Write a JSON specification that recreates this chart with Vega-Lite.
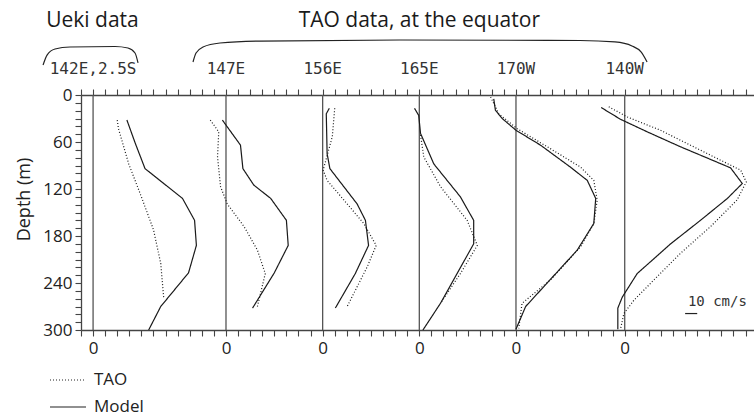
{
  "$schema": "https://vega.github.io/schema/vega-lite/v6.json",
  "width": 673,
  "height": 235,
  "autosize": {"type": "none"},
  "padding": {"left": 81, "top": 95, "right": 0, "bottom": 87},
  "background": "white",
  "config": {
    "view": {"stroke": null},
    "font": "Open Sans",
    "axis": {
      "domainColor": "#444",
      "domainWidth": 1.3,
      "tickColor": "#444",
      "tickWidth": 1.1,
      "tickSize": 6,
      "grid": false,
      "labelFont": "Open Sans",
      "labelFontSize": 17,
      "labelColor": "#222",
      "titleFont": "Open Sans",
      "titleFontWeight": "normal",
      "titleColor": "#222"
    }
  },
  "datasets": {
    "zeros": [
      {"station": "142E,2.5S", "x": 10},
      {"station": "147E", "x": 120},
      {"station": "156E", "x": 200},
      {"station": "165E", "x": 280},
      {"station": "170W", "x": 360},
      {"station": "140W", "x": 450}
    ],
    "profiles": [
      {"s": "142E,2.5S", "src": "Model", "d": 32, "x": 38},
      {"s": "142E,2.5S", "src": "Model", "d": 62, "x": 45},
      {"s": "142E,2.5S", "src": "Model", "d": 94, "x": 53},
      {"s": "142E,2.5S", "src": "Model", "d": 132, "x": 84},
      {"s": "142E,2.5S", "src": "Model", "d": 160, "x": 94},
      {"s": "142E,2.5S", "src": "Model", "d": 192, "x": 95.5},
      {"s": "142E,2.5S", "src": "Model", "d": 227, "x": 89},
      {"s": "142E,2.5S", "src": "Model", "d": 270, "x": 66},
      {"s": "142E,2.5S", "src": "Model", "d": 300, "x": 56},
      {"s": "142E,2.5S", "src": "TAO", "d": 32, "x": 30},
      {"s": "142E,2.5S", "src": "TAO", "d": 43, "x": 31},
      {"s": "142E,2.5S", "src": "TAO", "d": 88, "x": 39.5},
      {"s": "142E,2.5S", "src": "TAO", "d": 126, "x": 49},
      {"s": "142E,2.5S", "src": "TAO", "d": 172, "x": 60},
      {"s": "142E,2.5S", "src": "TAO", "d": 215, "x": 66},
      {"s": "142E,2.5S", "src": "TAO", "d": 260, "x": 68.5},
      {"s": "147E", "src": "Model", "d": 32, "x": 117},
      {"s": "147E", "src": "Model", "d": 64, "x": 132},
      {"s": "147E", "src": "Model", "d": 94, "x": 134},
      {"s": "147E", "src": "Model", "d": 115, "x": 143},
      {"s": "147E", "src": "Model", "d": 132, "x": 157},
      {"s": "147E", "src": "Model", "d": 160, "x": 170},
      {"s": "147E", "src": "Model", "d": 192, "x": 171.5},
      {"s": "147E", "src": "Model", "d": 227, "x": 160},
      {"s": "147E", "src": "Model", "d": 272, "x": 142},
      {"s": "147E", "src": "TAO", "d": 32, "x": 107},
      {"s": "147E", "src": "TAO", "d": 47, "x": 114},
      {"s": "147E", "src": "TAO", "d": 79, "x": 113},
      {"s": "147E", "src": "TAO", "d": 117, "x": 115.5},
      {"s": "147E", "src": "TAO", "d": 139, "x": 121},
      {"s": "147E", "src": "TAO", "d": 168, "x": 135},
      {"s": "147E", "src": "TAO", "d": 198, "x": 146},
      {"s": "147E", "src": "TAO", "d": 228, "x": 152.5},
      {"s": "147E", "src": "TAO", "d": 270, "x": 146},
      {"s": "156E", "src": "Model", "d": 17, "x": 205.5},
      {"s": "156E", "src": "Model", "d": 24, "x": 203},
      {"s": "156E", "src": "Model", "d": 75, "x": 203.7},
      {"s": "156E", "src": "Model", "d": 94, "x": 206},
      {"s": "156E", "src": "Model", "d": 117, "x": 217.5},
      {"s": "156E", "src": "Model", "d": 139, "x": 228.5},
      {"s": "156E", "src": "Model", "d": 160, "x": 235.4},
      {"s": "156E", "src": "Model", "d": 192, "x": 238},
      {"s": "156E", "src": "Model", "d": 228, "x": 227},
      {"s": "156E", "src": "Model", "d": 272, "x": 210.5},
      {"s": "156E", "src": "TAO", "d": 17, "x": 210},
      {"s": "156E", "src": "TAO", "d": 53, "x": 208},
      {"s": "156E", "src": "TAO", "d": 70, "x": 205},
      {"s": "156E", "src": "TAO", "d": 96, "x": 200.4},
      {"s": "156E", "src": "TAO", "d": 109, "x": 203.7},
      {"s": "156E", "src": "TAO", "d": 134, "x": 217.5},
      {"s": "156E", "src": "TAO", "d": 164, "x": 234},
      {"s": "156E", "src": "TAO", "d": 192, "x": 244.3},
      {"s": "156E", "src": "TAO", "d": 219, "x": 237},
      {"s": "156E", "src": "TAO", "d": 270, "x": 220.3},
      {"s": "165E", "src": "Model", "d": 17, "x": 276},
      {"s": "165E", "src": "Model", "d": 26, "x": 279.5},
      {"s": "165E", "src": "Model", "d": 49, "x": 281},
      {"s": "165E", "src": "Model", "d": 88, "x": 292},
      {"s": "165E", "src": "Model", "d": 130, "x": 314},
      {"s": "165E", "src": "Model", "d": 160, "x": 325},
      {"s": "165E", "src": "Model", "d": 190, "x": 325},
      {"s": "165E", "src": "Model", "d": 266, "x": 297.5},
      {"s": "165E", "src": "Model", "d": 300, "x": 283},
      {"s": "165E", "src": "TAO", "d": 51, "x": 281},
      {"s": "165E", "src": "TAO", "d": 79, "x": 283.7},
      {"s": "165E", "src": "TAO", "d": 117, "x": 297.5},
      {"s": "165E", "src": "TAO", "d": 160, "x": 319.6},
      {"s": "165E", "src": "TAO", "d": 192, "x": 328},
      {"s": "165E", "src": "TAO", "d": 228, "x": 314},
      {"s": "165E", "src": "TAO", "d": 266, "x": 297.5},
      {"s": "170W", "src": "Model", "d": 5, "x": 341.6},
      {"s": "170W", "src": "Model", "d": 19.5, "x": 343},
      {"s": "170W", "src": "Model", "d": 30, "x": 348.6},
      {"s": "170W", "src": "Model", "d": 45, "x": 360},
      {"s": "170W", "src": "Model", "d": 64, "x": 380.3},
      {"s": "170W", "src": "Model", "d": 92, "x": 405},
      {"s": "170W", "src": "Model", "d": 109, "x": 419},
      {"s": "170W", "src": "Model", "d": 132, "x": 426},
      {"s": "170W", "src": "Model", "d": 164, "x": 424.4},
      {"s": "170W", "src": "Model", "d": 198, "x": 410.7},
      {"s": "170W", "src": "Model", "d": 240, "x": 385.8},
      {"s": "170W", "src": "Model", "d": 270, "x": 368},
      {"s": "170W", "src": "Model", "d": 299, "x": 360},
      {"s": "170W", "src": "TAO", "d": 2.5, "x": 339},
      {"s": "170W", "src": "TAO", "d": 24, "x": 345.8},
      {"s": "170W", "src": "TAO", "d": 43, "x": 361},
      {"s": "170W", "src": "TAO", "d": 66, "x": 385.8},
      {"s": "170W", "src": "TAO", "d": 92, "x": 413.4},
      {"s": "170W", "src": "TAO", "d": 109, "x": 424.4},
      {"s": "170W", "src": "TAO", "d": 134, "x": 427.2},
      {"s": "170W", "src": "TAO", "d": 164, "x": 424.5},
      {"s": "170W", "src": "TAO", "d": 194, "x": 413.4},
      {"s": "170W", "src": "TAO", "d": 236, "x": 388.6},
      {"s": "170W", "src": "TAO", "d": 266, "x": 365},
      {"s": "170W", "src": "TAO", "d": 298, "x": 362.3},
      {"s": "140W", "src": "Model", "d": 16, "x": 430.5},
      {"s": "140W", "src": "Model", "d": 31, "x": 446.5},
      {"s": "140W", "src": "Model", "d": 47, "x": 468.6},
      {"s": "140W", "src": "Model", "d": 66, "x": 496},
      {"s": "140W", "src": "Model", "d": 93, "x": 537.6},
      {"s": "140W", "src": "Model", "d": 113, "x": 547.3},
      {"s": "140W", "src": "Model", "d": 132, "x": 535},
      {"s": "140W", "src": "Model", "d": 160, "x": 512.7},
      {"s": "140W", "src": "Model", "d": 190, "x": 488},
      {"s": "140W", "src": "Model", "d": 228, "x": 460.3},
      {"s": "140W", "src": "Model", "d": 258, "x": 448},
      {"s": "140W", "src": "Model", "d": 272, "x": 444.3},
      {"s": "140W", "src": "Model", "d": 299, "x": 444.3},
      {"s": "140W", "src": "TAO", "d": 15, "x": 436.8},
      {"s": "140W", "src": "TAO", "d": 28, "x": 452},
      {"s": "140W", "src": "TAO", "d": 45, "x": 479.6},
      {"s": "140W", "src": "TAO", "d": 79, "x": 523.8},
      {"s": "140W", "src": "TAO", "d": 96, "x": 546},
      {"s": "140W", "src": "TAO", "d": 111, "x": 550.6},
      {"s": "140W", "src": "TAO", "d": 134, "x": 543},
      {"s": "140W", "src": "TAO", "d": 168, "x": 521},
      {"s": "140W", "src": "TAO", "d": 202, "x": 496.2},
      {"s": "140W", "src": "TAO", "d": 236, "x": 474.2},
      {"s": "140W", "src": "TAO", "d": 262, "x": 457.6},
      {"s": "140W", "src": "TAO", "d": 279, "x": 449.3},
      {"s": "140W", "src": "TAO", "d": 299, "x": 446.5}
    ],
    "braces": [
      {"b": "ueki", "i": 1, "x": -31.4, "d": -38.3},
      {"b": "ueki", "i": 2, "x": -28.1, "d": -51},
      {"b": "ueki", "i": 3, "x": -21.5, "d": -58.7},
      {"b": "ueki", "i": 4, "x": -9.1, "d": -61.3},
      {"b": "ueki", "i": 5, "x": 28.1, "d": -61.9},
      {"b": "ueki", "i": 6, "x": 38.9, "d": -60},
      {"b": "ueki", "i": 7, "x": 44.7, "d": -53.6},
      {"b": "ueki", "i": 8, "x": 47.2, "d": -40.9},
      {"b": "tao", "i": 1, "x": 92.7, "d": -42.1},
      {"b": "tao", "i": 2, "x": 95.2, "d": -53.6},
      {"b": "tao", "i": 3, "x": 101, "d": -61.3},
      {"b": "tao", "i": 4, "x": 115, "d": -66.4},
      {"b": "tao", "i": 5, "x": 148.1, "d": -68.9},
      {"b": "tao", "i": 6, "x": 264, "d": -70.2},
      {"b": "tao", "i": 7, "x": 413, "d": -69.6},
      {"b": "tao", "i": 8, "x": 441.9, "d": -67.7},
      {"b": "tao", "i": 9, "x": 456, "d": -62.6},
      {"b": "tao", "i": 10, "x": 463.5, "d": -54.9},
      {"b": "tao", "i": 11, "x": 468.5, "d": -42.1}
    ],
    "stationLabels": [
      {"label": "142E,2.5S", "x": 10, "d": -33},
      {"label": "147E", "x": 120, "d": -33},
      {"label": "156E", "x": 200, "d": -33},
      {"label": "165E", "x": 280, "d": -33},
      {"label": "170W", "x": 360, "d": -33},
      {"label": "140W", "x": 450, "d": -33}
    ],
    "headers": [
      {"label": "Ueki data", "x": 9.5, "d": -94.5},
      {"label": "TAO data, at the equator", "x": 280, "d": -94.5}
    ],
    "scaleText": [{"label": "10 cm/s", "x": 502.3, "d": 264}],
    "scaleBar": [{"x": 500, "x2": 510, "d": 279}]
  },
  "layer": [
    {
      "data": {"name": "zeros"},
      "mark": {"type": "rule", "color": "#555", "strokeWidth": 1.3},
      "encoding": {
        "x": {
          "field": "x",
          "type": "quantitative",
          "scale": {"domain": [0, 557], "nice": false, "zero": false},
          "axis": {
            "orient": "bottom",
            "title": null,
            "values": [0,10,20,30,40,50,60,70,80,90,100,110,120,130,140,150,160,170,180,190,200,210,220,230,240,250,260,270,280,290,300,310,320,330,340,350,360,370,380,390,400,410,420,430,440,450,460,470,480,490,500,510,520,530,540,550],
            "labelExpr": "indexof([10,120,200,280,360,450], datum.value) >= 0 ? '0' : ''",
            "labelOverlap": false,
            "labelPadding": 4,
            "labelFlush": false
          }
        }
      }
    },
    {
      "data": {"name": "profiles"},
      "mark": {"type": "line", "color": "#1a1a1a", "strokeWidth": 1.2},
      "encoding": {
        "x": {
          "field": "x",
          "type": "quantitative",
          "scale": {"domain": [0, 557], "nice": false, "zero": false},
          "axis": {
            "orient": "top",
            "title": null,
            "labels": false,
            "values": [0,10,20,30,40,50,60,70,80,90,100,110,120,130,140,150,160,170,180,190,200,210,220,230,240,250,260,270,280,290,300,310,320,330,340,350,360,370,380,390,400,410,420,430,440,450,460,470,480,490,500,510,520,530,540,550]
          }
        },
        "y": {
          "field": "d",
          "type": "quantitative",
          "scale": {"domain": [0, 300], "reverse": true, "nice": false, "zero": false},
          "axis": {
            "orient": "left",
            "title": "Depth (m)",
            "titleFontSize": 18,
            "titlePadding": 9,
            "titleY": 104,
            "values": [0,10,20,30,40,50,60,70,80,90,100,110,120,130,140,150,160,170,180,190,200,210,220,230,240,250,260,270,280,290,300],
            "labelExpr": "datum.value % 60 == 0 ? datum.label : ''",
            "labelOverlap": false,
            "labelFlush": false,
            "labelPadding": 3
          }
        },
        "detail": {"field": "s"},
        "order": {"field": "d", "type": "quantitative"},
        "strokeDash": {
          "field": "src",
          "type": "nominal",
          "scale": {"domain": ["TAO", "Model"], "range": [[1, 2], [1, 0]]},
          "legend": {
            "title": null,
            "orient": "none",
            "legendX": -32,
            "legendY": 266,
            "symbolType": "stroke",
            "symbolSize": 1296,
            "symbolStrokeWidth": 1.2,
            "symbolStrokeColor": "#222",
            "labelFont": "Open Sans",
            "labelFontSize": 17,
            "labelColor": "#222",
            "labelOffset": 7,
            "rowPadding": -11
          }
        }
      }
    },
    {
      "data": {"name": "braces"},
      "mark": {"type": "line", "color": "#222", "strokeWidth": 1.2, "interpolate": "monotone", "clip": false},
      "encoding": {
        "x": {"field": "x", "type": "quantitative", "axis": null},
        "y": {"field": "d", "type": "quantitative", "axis": null},
        "detail": {"field": "b"},
        "order": {"field": "i", "type": "quantitative"}
      }
    },
    {
      "data": {"name": "stationLabels"},
      "mark": {"type": "text", "font": "DejaVu Sans Mono", "fontSize": 16, "color": "#333", "align": "center", "baseline": "middle"},
      "encoding": {
        "x": {"field": "x", "type": "quantitative", "axis": null},
        "y": {"field": "d", "type": "quantitative", "axis": null},
        "text": {"field": "label"}
      }
    },
    {
      "data": {"name": "headers"},
      "mark": {"type": "text", "font": "Open Sans", "fontSize": 21, "color": "#1a1a1a", "align": "center", "baseline": "middle"},
      "encoding": {
        "x": {"field": "x", "type": "quantitative", "axis": null},
        "y": {"field": "d", "type": "quantitative", "axis": null},
        "text": {"field": "label"}
      }
    },
    {
      "data": {"name": "scaleText"},
      "mark": {"type": "text", "font": "DejaVu Sans Mono", "fontSize": 14, "color": "#333", "align": "left", "baseline": "middle"},
      "encoding": {
        "x": {"field": "x", "type": "quantitative", "axis": null},
        "y": {"field": "d", "type": "quantitative", "axis": null},
        "text": {"field": "label"}
      }
    },
    {
      "data": {"name": "scaleBar"},
      "mark": {"type": "rule", "color": "#222", "strokeWidth": 1.2},
      "encoding": {
        "x": {"field": "x", "type": "quantitative", "axis": null},
        "x2": {"field": "x2"},
        "y": {"field": "d", "type": "quantitative", "axis": null}
      }
    }
  ],
  "resolve": {"axis": {"x": "independent", "y": "independent"}}
}
